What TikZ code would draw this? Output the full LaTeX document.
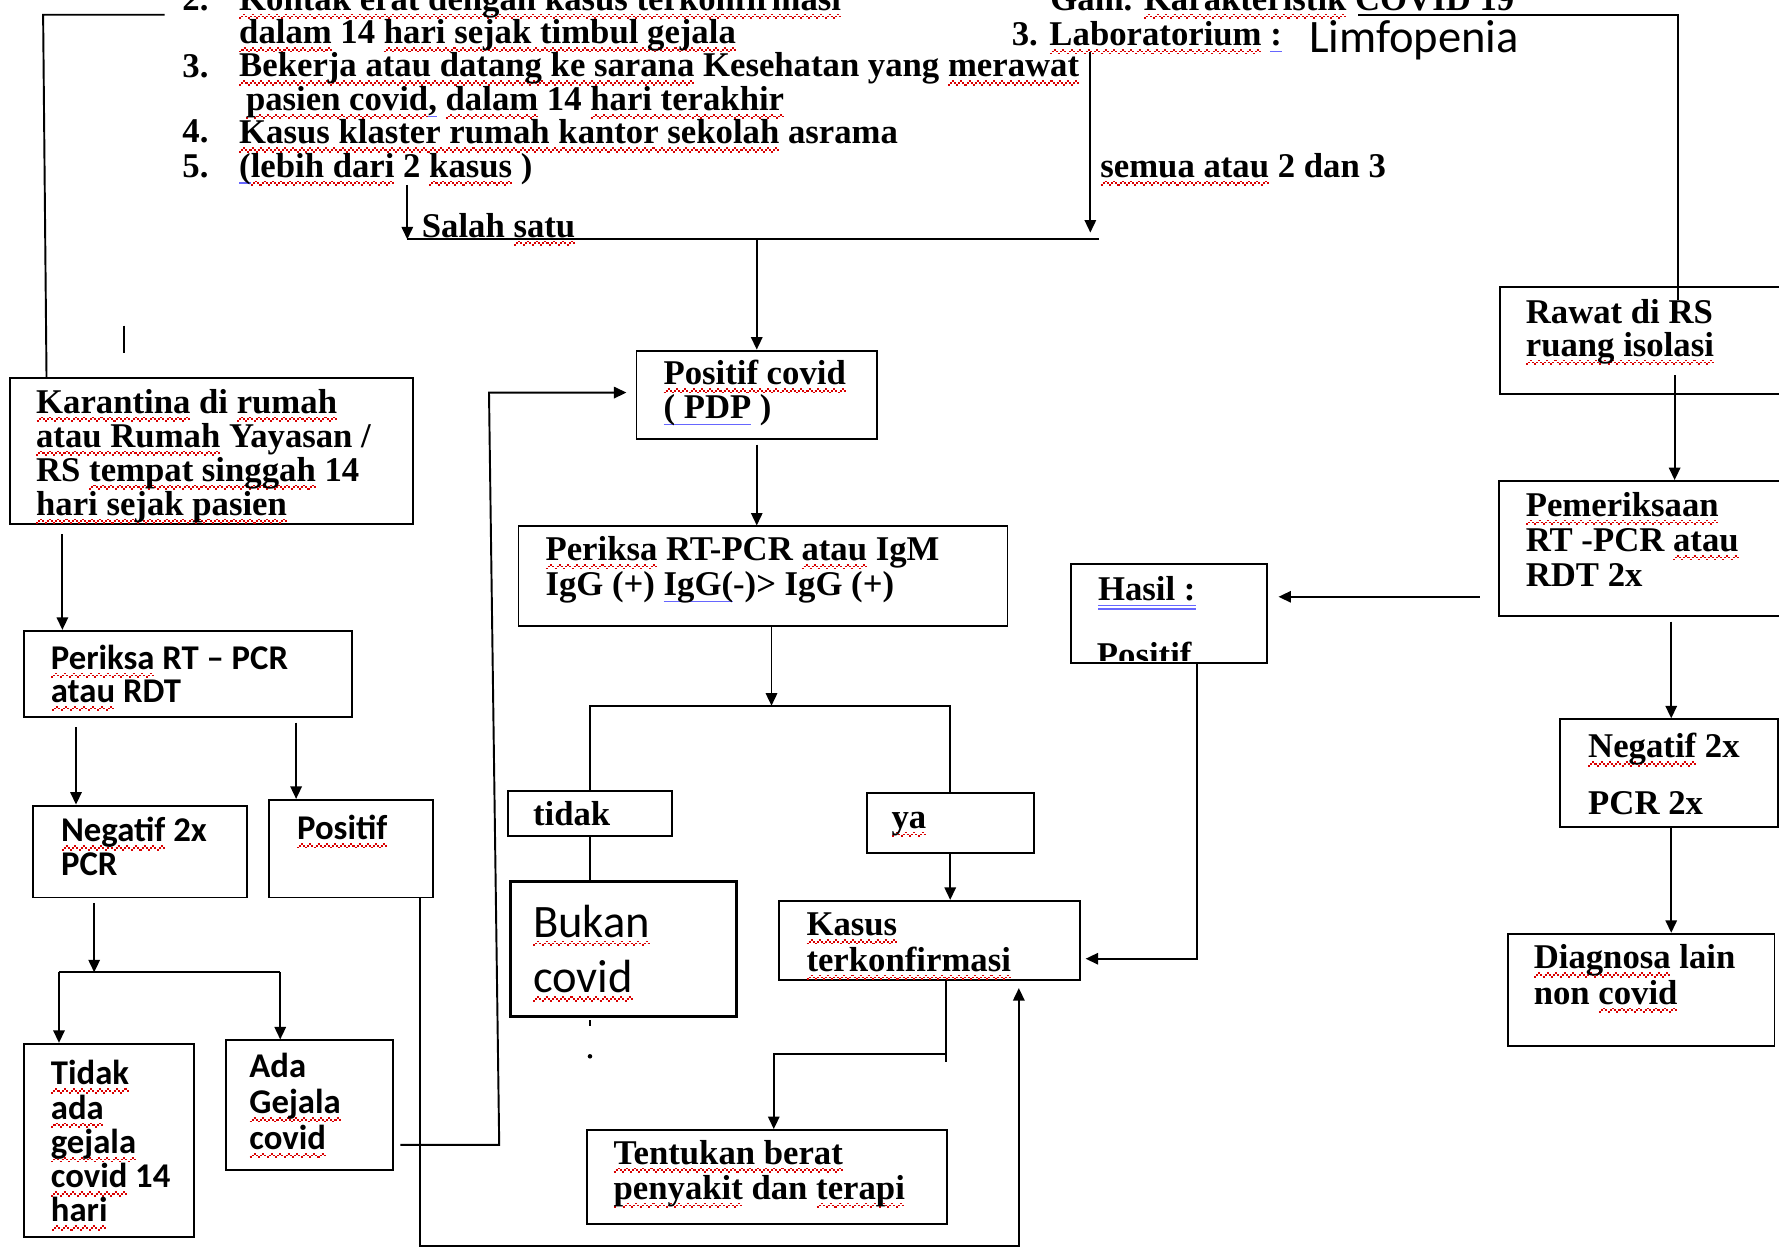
\documentclass[tikz,border=0pt]{standalone}
\usepackage{fontspec}
\setmainfont{Liberation Serif}
\newfontfamily\calib{Carlito}
\usetikzlibrary{arrows.meta,fit}

\newsavebox\sqbox
\newcommand\wtile{\textcolor{red!85!black}{\rule[-3.9pt]{0.9pt}{0.75pt}\rule[-3.1pt]{0.9pt}{0.75pt}\rule[-2.3pt]{0.9pt}{0.75pt}\rule[-3.1pt]{0.9pt}{0.75pt}}}
\newcommand\sq[1]{\sbox\sqbox{#1}\rlap{\hbox to\wd\sqbox{\xleaders\hbox{\wtile}\hfil}}\usebox\sqbox}
\newcommand\bl[1]{\sbox\sqbox{#1}\rlap{\textcolor{blue!60}{\rule[-3pt]{\wd\sqbox}{0.7pt}}}\usebox\sqbox}
\newcommand\bll[1]{\sbox\sqbox{#1}\rlap{\textcolor{blue!60}{\rule[-2.6pt]{\wd\sqbox}{0.6pt}}}\rlap{\textcolor{blue!60}{\rule[-4.2pt]{\wd\sqbox}{0.6pt}}}\usebox\sqbox}
\newcommand\tnr[1][15]{\fontsize{15.3}{#1}\selectfont\bfseries}
\newcommand\cbr[1][14.6]{\fontsize{15.3}{#1}\selectfont\calib\bfseries}
\newcommand\clg{\fontsize{20.5}{24.5}\selectfont\calib}

\begin{document}
\begin{tikzpicture}
[x=0.5pt,y=-0.5pt,line width=0.85pt,
 box/.style={draw,inner sep=0pt},
 tx/.style={anchor=base west,inner sep=0pt,align=left,font=\tnr,yshift=-1.5pt},
 cb/.style={anchor=base west,inner sep=0pt,align=left,font=\cbr,yshift=-1.5pt},
 arr/.style={-{Triangle[length=5.5pt,width=5pt]}}]
\useasboundingbox (0,0) rectangle (1568,1100);
% criteria at the top (text nodes sit on their last line)
\foreach \n/\y in {2/6,3/65,4/123,5/153} \node[tx] (n\n) at (160,\y) {\n.};
\node[tx,font={\tnr[14.7]}] (lst) at (210,153) {\sq{Kontak erat dengan kasus terkonfirmasi}\\
\sq{dalam} 14 \sq{hari sejak timbul gejala}\\
\sq{Bekerja atau datang ke sarana} Kesehatan yang \sq{merawat}\\
\hspace{3pt}\sq{pasien covid}\bl{,} \sq{dalam} 14 \sq{hari terakhir}\\
\sq{Kasus klaster rumah kantor sekolah} asrama\\
\bl{(}\sq{lebih dari} 2 \sq{kasus} )};
\node[tx] (gam) at (925,6) {Gam. \sq{Karakteristik} COVID 19};
\node[tx] (lab) at (891,37) {3. \sq{Laboratorium} \bl{:}};
\node[anchor=base west,inner sep=0pt,font=\clg] (lim) at (1153,46) {Limfopenia};
\node[tx] (sem) at (969,153) {\sq{semua atau} 2 dan 3};
\node[tx] (sal) at (371,206) {Salah \sq{satu}};
% boxes, middle
\node[box,fit={(561,309) (773,387)}] (pos) {};
\node[tx] (posT) at (584,366) {\sq{Positif covid}\\\bl{( PDP} )};
\node[box,fit={(457,464) (888,552)}] (prk) {};
\node[tx,font={\tnr[14]}] (prkT) at (480,522) {\sq{Periksa} RT-PCR \sq{atau} IgM\\IgG (+) \bl{IgG(}-)> IgG (+)};
\node[box,fit={(448,697) (592,737)}] (tdk) {};
\node[tx] (tdkT) at (469,725) {tidak};
\node[box,fit={(450,777) (649,896)},line width=1.6pt] (bkn) {};
\node[anchor=base west,inner sep=0pt,align=left,font=\clg] (bknT) at (469,875) {\sq{Bukan}\\\sq{covid}};
\node[box,fit={(764,699) (911,752)}] (ya) {};
\node[tx] (yaT) at (785,727) {\sq{ya}};
\node[box,fit={(687,794) (952,864)}] (kas) {};
\node[tx,font={\tnr[14.5]}] (kasT) at (710,853) {\sq{Kasus}\\\sq{terkonfirmasi}};
\node[box,fit={(517,996) (835,1079)}] (ten) {};
\node[tx,font={\tnr[13.5]}] (tenT) at (540,1054) {\sq{Tentukan berat}\\\sq{penyakit} dan \sq{terapi}};
\node[box,fit={(944,497) (1117,584)}] (has) {};
\node[tx] (hasT) at (967,526) {\bll{Hasil :}};
\begin{scope}
\clip (944,497) rectangle (1117,582);
\node[tx] (hasP) at (966,584) {Positif};
\end{scope}
% boxes, left
\node[box,fit={(9,333) (364,462)}] (kar) {};
\node[tx] (karT) at (31,451) {\sq{Karantina} di \sq{rumah}\\\sq{atau Rumah} Yayasan /\\RS \sq{tempat singgah} 14\\\sq{hari sejak pasien}};
\node[box,fit={(21,556) (310,632)}] (prl) {};
\node[cb] (prlT) at (44,616) {\sq{Periksa} RT – PCR\\\sq{atau} RDT};
\node[box,fit={(29,710) (218,791)}] (negl) {};
\node[cb,font={\cbr[15]}] (neglT) at (53,769) {\sq{Negatif} 2x\\PCR};
\node[box,fit={(237,705) (382,791)}] (posl) {};
\node[cb] (poslT) at (261,737) {\sq{Positif}};
\node[box,fit={(21,920) (171,1090)}] (tdl) {};
\node[cb,font={\cbr[15.1]}] (tdlT) at (44,1074) {\sq{Tidak}\\\sq{ada}\\\sq{gejala}\\\sq{covid} 14\\\sq{hari}};
\node[box,fit={(199,917) (346,1031)}] (ada) {};
\node[cb,font={\cbr[15.8]}] (adaT) at (219,1010) {Ada\\\sq{Gejala}\\\sq{covid}};
% boxes, right
\node[box,fit={(1322,253) (1600,347)}] (raw) {};
\node[tx,font={\tnr[14.5]}] (rawT) at (1344,311) {Rawat di RS\\\sq{ruang isolasi}};
\node[box,fit={(1321,424) (1600,543)}] (pem) {};
\node[tx,font={\tnr[15.5]}] (pemT) at (1344,514) {\sq{Pemeriksaan}\\RT -PCR \sq{atau}\\RDT 2x};
\node[box,fit={(1375,634) (1567,729)}] (neg2) {};
\node[tx,font={\tnr[25]}] (neg2T) at (1399,715) {\sq{Negatif} 2x\\PCR 2x};
\node[box,fit={(1329,823) (1564,922)}] (dia) {};
\node[tx,font={\tnr[15.5]}] (diaT) at (1351,882) {\sq{Diagnosa} lain\\non \sq{covid}};
% connectors
\coordinate (tl) at (145,13);
\draw (tl) -- (38,13) -- (kar.north -| 41,0);
\draw (109,287) -- (109,311);
\coordinate (jl) at (359,211);
\coordinate (jr) at (969,211);
\coordinate (s1) at (359,163);
\coordinate (s2) at (961,46);
\draw (jl) -- (jr);
\draw[arr] (s1) -- (jl);
\draw[arr,shorten >=3pt] (s2) -- (s2 |- jl);
\draw[arr] (pos.north |- jl) -- (pos.north);
\draw[arr,shorten <=2pt] (pos.south) -- (pos.south |- prk.north);
\coordinate (sp) at (680,622);
\draw[arr] (prk.south -| sp) -- (sp);
\draw (tdk.north) |- (sp) -| (ya.north);
\draw (tdk.south) -- (tdk.south |- bkn.north);
\draw[arr] (ya.south) -- (ya.south |- kas.north);
\draw (kas.south -| 834,0) -- (834,936);
\draw[arr] (834,929) -| (ten.north -| 682,0);
\draw (520,899) -- (520,904);
\fill (520,931) circle (1pt);
\draw[arr,shorten <=4pt] (kar.south -| 55,0) -- (prl.north -| 55,0);
\draw[arr,shorten <=4pt] (prl.south -| 67,0) -- (negl.north -| 67,0);
\draw[arr,shorten <=2pt] (prl.south -| 261,0) -- (posl.north -| 261,0);
\coordinate (ml) at (52,857);
\coordinate (mr) at (247,857);
\draw[arr,shorten <=2pt] (negl.south -| 83,0) -- (ml -| 83,0);
\draw (ml) -- (mr);
\draw[arr] (ml) -- (tdl.north -| ml);
\draw[arr] (mr) -- (ada.north -| mr);
\draw[arr,shorten <=3pt,shorten >=4pt] (ada.east |- 0,1009) -- (440,1009) -- (431,346) -- (pos.west |- 0,346);
\draw[arr,shorten >=3pt] (posl.south -| 370,0) |- (898,1098) -- (kas.south -| 898,0);
\coordinate (tr) at (1197,13);
\draw[shorten >=-6pt] (tr) -| (raw.north -| 1479,0);
\draw[arr,shorten <=-8.5pt] (raw.south -| 1476,0) -- (pem.north -| 1476,0);
\draw[arr,shorten <=8pt,shorten >=4.5pt] (pem.west |- 0,526) -- (has.east |- 0,526);
\draw[arr,shorten <=2pt] (pem.south -| 1473,0) -- (neg2.north -| 1473,0);
\draw[arr] (neg2.south -| 1473,0) -- (dia.north -| 1473,0);
\draw[arr,shorten >=2pt] (has.south -| 1055,0) |- (kas.east |- 0,845);
\end{tikzpicture}
\end{document}
